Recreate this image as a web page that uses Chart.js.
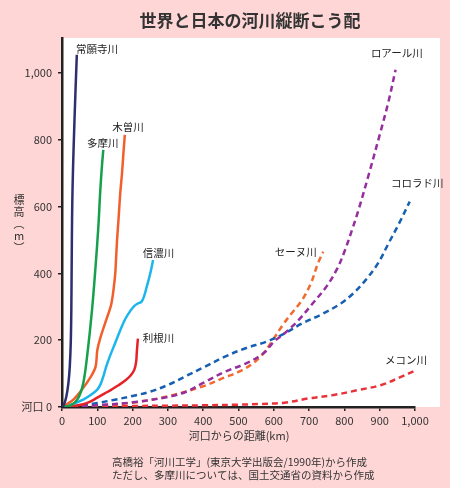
<!DOCTYPE html>
<html>
<head>
<meta charset="utf-8">
<script src="https://cdn.jsdelivr.net/npm/chart.js@4"></script>
<style>
  html, body { margin: 0; padding: 0; background: #ffd6d6; }
  #wrap { width: 450px; height: 488px; }
</style>
</head>
<body>
<div id="wrap"><canvas id="chart" width="450" height="488"></canvas></div>
<script>
// [河口からの距離 km, 標高 m]
const joganji = [[0,0],[5,6],[12,30],[18,70],[22,120],[25,200],[26.5,300],[27.5,440],[28.5,560],[30,660],[33,780],[38,940],[42,1055]];
const tama = [[0,0],[25,5],[45,25],[60,70],[72,160],[85,290],[95,420],[103,540],[108,640],[113,720],[117,770]];
const kiso = [[0,0],[10,6],[32,22],[55,50],[80,88],[95,120],[100,170],[108,205],[125,260],[140,310],[150,390],[153,440],[156,500],[160,560],[165,640],[170,700],[174,760],[178,815]];
const shinano = [[0,0],[20,5],[40,13],[60,22],[80,35],[100,52],[110,70],[118,95],[125,120],[135,150],[150,190],[165,230],[180,265],[195,290],[205,303],[215,310],[225,315],[232,330],[240,360],[250,400],[258,440]];
const tone = [[0,0],[30,2],[60,8],[80,16],[100,28],[120,40],[140,52],[160,65],[180,80],[195,95],[205,112],[210,135],[212,165],[215,205]];
const loire = [[0,0],[100,5],[200,14],[300,30],[350,45],[400,72],[460,105],[520,130],[570,160],[600,195],[630,220],[670,260],[710,310],[750,362],[780,415],[800,465],[820,525],[840,590],[870,700],[900,815],[925,915],[945,1010]];
const colorado = [[0,0],[50,4],[100,12],[150,22],[200,33],[250,46],[300,66],[350,92],[400,118],[460,150],[520,176],[580,196],[630,220],[680,250],[740,280],[790,310],[825,340],[860,380],[895,430],[925,490],[955,550],[985,615]];
const seine = [[0,0],[100,5],[200,13],[300,32],[400,62],[460,88],[500,105],[540,130],[570,160],[600,205],[625,245],[650,280],[680,320],[705,370],[725,430],[740,465]];
const mekong = [[0,0],[100,2],[200,3],[300,4],[400,5],[500,7],[560,9],[630,13],[700,26],[770,36],[840,51],[905,66],[960,90],[1005,111]];

const xTicks = [0,100,200,300,400,500,600,700,800,900,1000];
const yTicks = [0,200,400,600,800,1000];

// 河川名と、その文字の左端・中心の位置（km, m）
const riverLabels = [
  ['常願寺川', 40, 1072],
  ['木曽川', 142, 838],
  ['多摩川', 71, 790],
  ['信濃川', 229, 461],
  ['利根川', 229, 207],
  ['ロアール川', 875, 1060],
  ['コロラド川', 932, 671],
  ['セーヌ川', 603, 464],
  ['メコン川', 915, 141]
];

const FONT = '"Noto Sans CJK JP", "Noto Sans", sans-serif';

function toPoints(arr) {
  return arr.map(p => ({x: p[0], y: p[1]}));
}

function solid(label, data, color) {
  return {label, data: toPoints(data), borderColor: color, borderWidth: 2.5,
    pointRadius: 0, fill: false, tension: 0.35};
}
function dashed(label, data, color) {
  return {label, data: toPoints(data), borderColor: color, borderWidth: 2.5,
    borderDash: [6, 4], pointRadius: 0, fill: false, tension: 0.35};
}

const decor = {
  id: 'decor',
  beforeDraw(chart) {
    const {ctx, chartArea: a} = chart;
    ctx.save();
    ctx.fillStyle = '#ffd6d6';
    ctx.fillRect(0, 0, chart.width, chart.height);
    ctx.fillStyle = '#ffffff';
    ctx.fillRect(a.left, a.top, a.right - a.left + 25, a.bottom - a.top);
    ctx.restore();
  },
  afterDraw(chart) {
    const {ctx, scales} = chart;
    ctx.save();
    ctx.fillStyle = '#333';
    ctx.textBaseline = 'middle';

    ctx.font = 'bold 17px ' + FONT;
    ctx.textAlign = 'center';
    ctx.fillText('世界と日本の河川縦断こう配', 250, 21);

    // 縦書きの軸タイトル（一文字ずつ）
    ctx.font = '11px ' + FONT;
    ['標', '高', '︵', 'm', '︶'].forEach((c, i) => ctx.fillText(c, 19, 200 + i * 12));

    ctx.fillText('河口からの距離(km)', 239, 436);

    ctx.textAlign = 'left';
    ctx.font = '10.5px ' + FONT;
    ctx.fillText('高橋裕「河川工学」(東京大学出版会/1990年)から作成', 112, 462);
    ctx.fillText('ただし、多摩川については、国土交通省の資料から作成', 112, 475);

    ctx.fillStyle = '#222';
    riverLabels.forEach(([t, km, m]) => {
      ctx.fillText(t, scales.x.getPixelForValue(km), scales.y.getPixelForValue(m));
    });
    ctx.restore();
  }
};

new Chart(document.getElementById('chart'), {
  type: 'line',
  data: {
    datasets: [
      solid('常願寺川', joganji, '#2e2f6e'),
      solid('多摩川', tama, '#17a04c'),
      solid('木曽川', kiso, '#f25f2c'),
      solid('信濃川', shinano, '#1cb6ec'),
      solid('利根川', tone, '#e52228'),
      dashed('ロアール川', loire, '#952f9e'),
      dashed('コロラド川', colorado, '#165fb2'),
      dashed('セーヌ川', seine, '#f26a2e'),
      dashed('メコン川', mekong, '#e9333a')
    ]
  },
  options: {
    responsive: false,
    animation: false,
    layout: {padding: {top: 38, right: 35, left: 0, bottom: 0}},
    plugins: {legend: {display: false}, tooltip: {enabled: false}},
    scales: {
      x: {
        type: 'linear', min: 0, max: 1000,
        afterFit(s) { s.height = 81; },
        afterBuildTicks(s) { s.ticks = xTicks.map(v => ({value: v})); },
        grid: {drawOnChartArea: false, color: '#222', lineWidth: 1.5, tickLength: 4},
        border: {color: '#222', width: 2.5},
        ticks: {color: '#333', font: {family: FONT, size: 11}, padding: 3, maxRotation: 0,
          callback: v => v.toLocaleString('en-US')}
      },
      y: {
        type: 'linear', min: 0, max: 1105,
        afterFit(s) { s.width = 62; },
        afterBuildTicks(s) { s.ticks = yTicks.map(v => ({value: v})); },
        grid: {drawOnChartArea: false, color: '#222', lineWidth: 1.5, tickLength: 4},
        border: {color: '#222', width: 2.5},
        ticks: {color: '#333', font: {family: FONT, size: 11}, padding: 6,
          callback: v => v === 0 ? '河口 0' : v.toLocaleString('en-US')}
      }
    }
  },
  plugins: [decor]
});
</script>
</body>
</html>
